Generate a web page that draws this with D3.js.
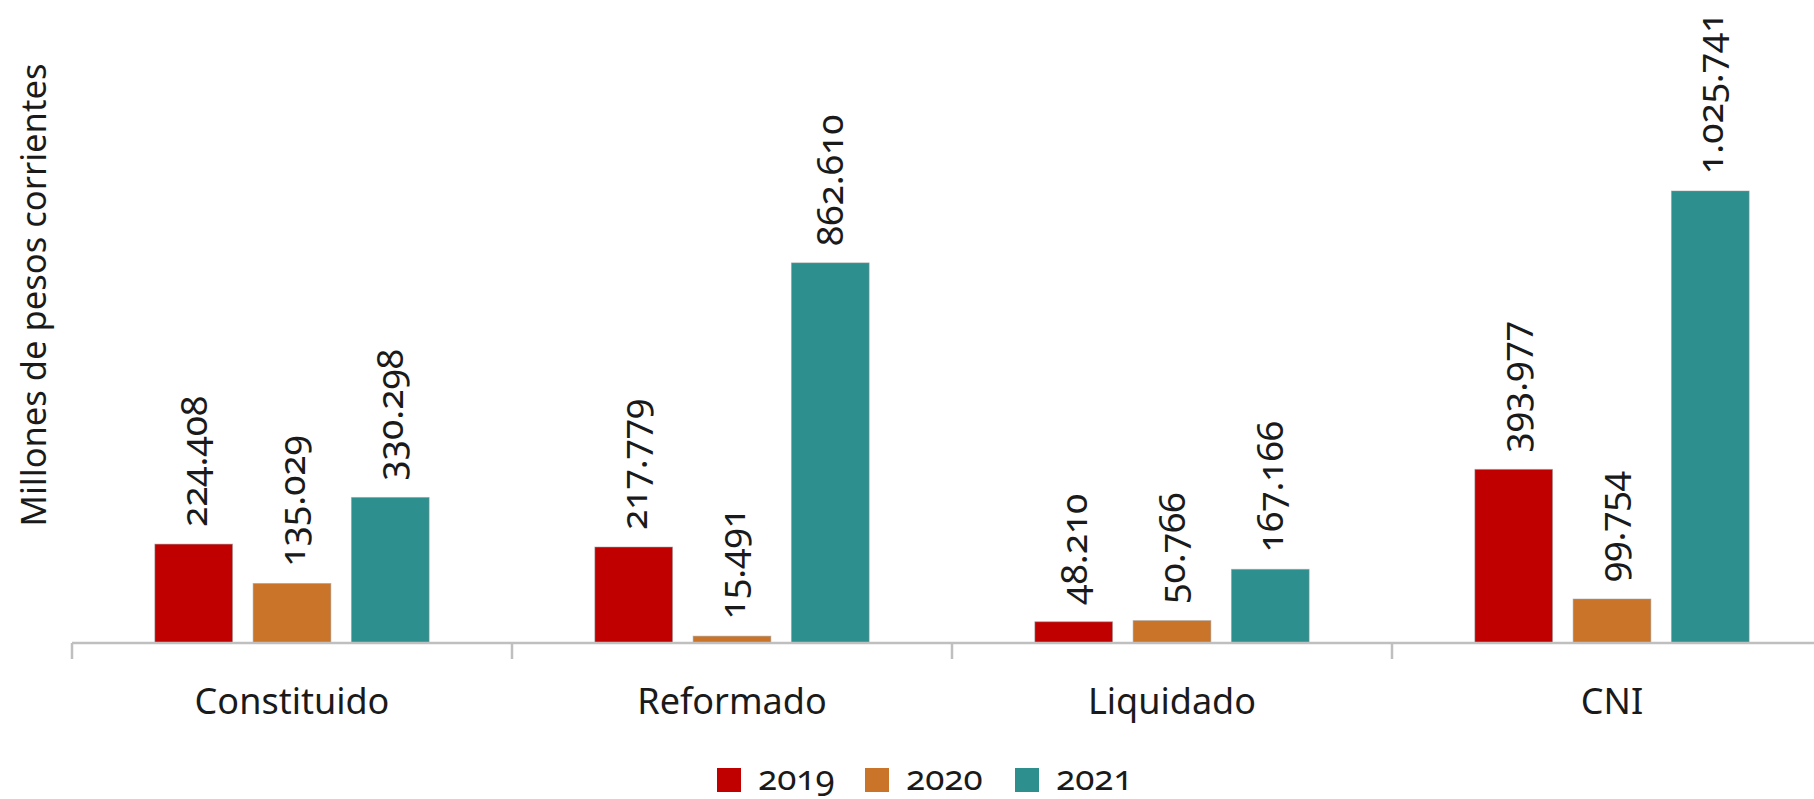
<!DOCTYPE html>
<html><head><meta charset="utf-8">
<script src="https://cdn.jsdelivr.net/npm/d3@7"></script>
<style>
body{margin:0;background:#fff;}
svg{font-family:"Noto Sans",Lato,sans-serif;font-feature-settings:"onum";font-variant-numeric:oldstyle-nums;}
svg text{fill:#1a1a1a;}
</style></head>
<body><svg id="c" width="1814" height="799"></svg>
<script>
const categories = ["Constituido","Reformado","Liquidado","CNI"];
const years = ["2019","2020","2021"];
const values2019 = [224408, 217779, 48210, 393977];
const values2020 = [135029, 15491, 50766, 99754];
const values2021 = [330298, 862610, 167166, 1025741];
const colors = ["#C00000","#CA742A","#2D8F8E"];
const yTitle = "Millones de pesos corrientes";

const series = [values2019, values2020, values2021];
const svg = d3.select("#c");
const W = 1814;
const base = 643;
const x0 = d3.scaleBand().domain(categories).range([72,1832]).padding(0);
const x1 = d3.scaleBand().domain(years).range([0,x0.bandwidth()]).paddingInner(0.21).paddingOuter(0.843);
const y = d3.scaleLinear().domain([0,1025741]).range([base, base-452]);
const loc = d3.formatLocale({decimal:",",thousands:".",grouping:[3],currency:["$",""]});
const fmt = loc.format(",d");
const onum = s => s.attr("style", (s.attr("style")||"") + ";font-feature-settings:'onum' 1;font-variant-numeric:oldstyle-nums;");

const g = svg.append("g");
categories.forEach((c,i)=>{
  years.forEach((yr,j)=>{
    const v = series[j][i];
    const bx = x0(c)+x1(yr);
    g.append("rect").attr("x",bx).attr("y",y(v)).attr("width",x1.bandwidth()).attr("height",base-y(v))
      .attr("fill",colors[j]).attr("stroke","rgba(150,150,150,0.5)").attr("stroke-width",1);
    g.append("text").attr("transform",`translate(${bx+x1.bandwidth()/2+3},${y(v)-17}) rotate(-90)`)
      .attr("text-anchor","start").attr("dominant-baseline","middle")
      .style("font-size","37px").call(onum).text(fmt(v));
  });
});

// axis
const ax = svg.append("g");
ax.append("line").attr("x1",72).attr("x2",W).attr("y1",base).attr("y2",base).attr("stroke","#bfbfbf").attr("stroke-width",2.5);
categories.forEach(c=>{
  const t = x0(c);
  ax.append("line").attr("x1",t).attr("x2",t).attr("y1",base).attr("y2",base+16).attr("stroke","#bfbfbf").attr("stroke-width",2.5);
});
categories.forEach(c=>{
  ax.append("text").attr("x",x0(c)+x0.bandwidth()/2).attr("y",base+71).attr("text-anchor","middle")
    .style("font-size","36px").text(c);
});

const yt = svg.append("text").attr("transform","translate(37,295) rotate(-90)").attr("text-anchor","middle")
  .attr("dominant-baseline","middle").style("font-size","32px").text(yTitle);
const len = yt.node().getComputedTextLength();
yt.style("font-size", (32*463/len)+"px");

// legend
const legX = [717, 865, 1015];
years.forEach((yr,j)=>{
  svg.append("rect").attr("x",legX[j]).attr("y",768).attr("width",24).attr("height",24).attr("fill",colors[j]);
  svg.append("text").attr("x",legX[j]+41).attr("y",790).style("font-size","35px").call(onum).text(yr);
});
</script></body></html>
